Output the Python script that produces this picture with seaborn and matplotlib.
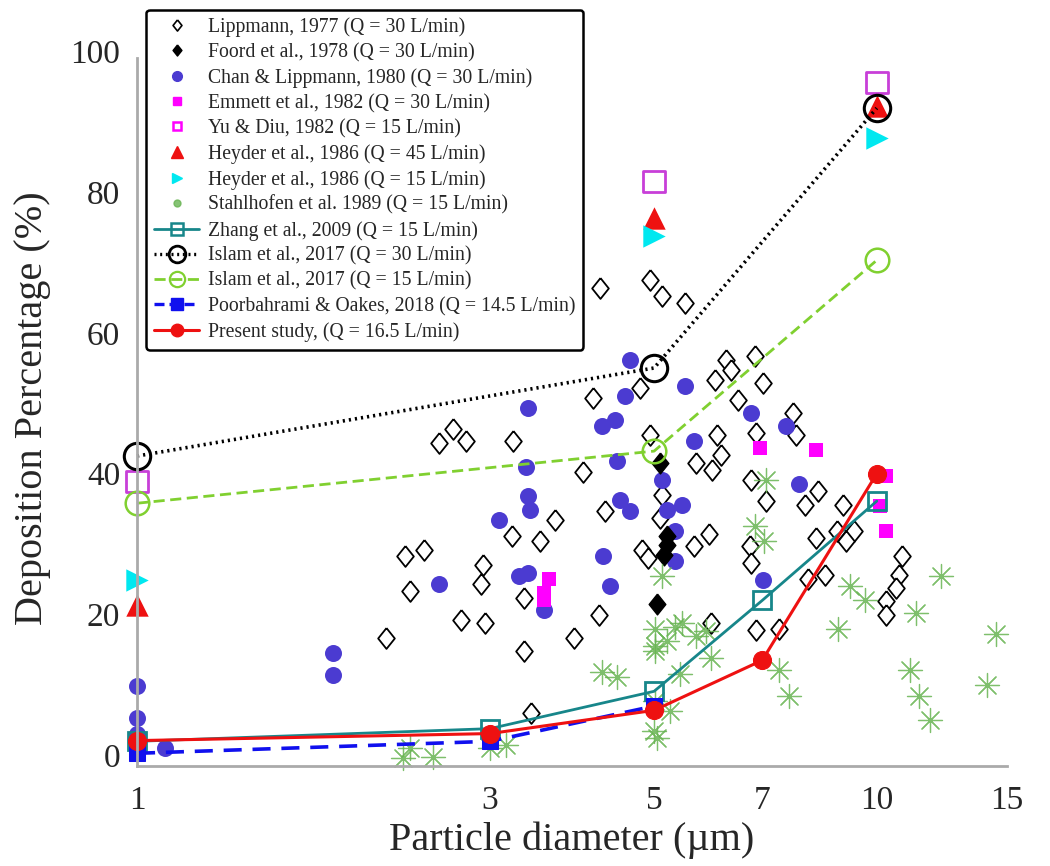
import numpy as np
import pandas as pd
import matplotlib.pyplot as plt
from matplotlib.lines import Line2D
import seaborn as sns

# ---- data ----
# Lippmann, 1977 (open diamonds)
lipp_x = [2.17, 2.34, 2.30, 2.44, 2.56, 2.67, 2.78, 2.74, 2.94, 2.92, 2.95, 3.22, 3.21, 3.50,
          3.67, 3.34, 3.34, 3.41, 4.01, 4.14, 4.29, 4.21, 3.90, 4.79, 4.93, 5.12, 5.10, 4.82,
          4.90, 4.23, 4.93, 5.12, 5.50, 6.25, 6.35, 6.05, 6.49, 6.84, 7.01, 6.09, 6.86, 6.16,
          5.69, 5.99, 6.76, 7.08, 7.70, 7.78, 8.00, 8.33, 9.00, 8.27, 8.84, 9.31, 9.10, 5.94,
          5.66, 6.73, 6.76, 8.08, 8.52, 5.96, 6.86, 7.38, 10.8, 10.7, 10.6, 10.3, 10.3]
lipp_y = [16.6, 23.4, 28.3, 29.1, 44.3, 46.4, 44.7, 19.2, 27.0, 24.4, 18.8, 44.6, 31.1, 30.4,
          33.4, 22.3, 14.8, 6.0, 40.3, 50.7, 34.7, 19.9, 16.6, 52.1, 45.5, 36.9, 33.7, 29.1,
          28.0, 66.3, 67.5, 65.2, 64.2, 56.1, 54.7, 53.3, 50.4, 56.7, 52.8, 45.5, 45.7, 42.6,
          41.5, 40.5, 39.1, 36.1, 48.6, 45.5, 35.5, 37.5, 35.5, 30.8, 31.8, 31.8, 30.5, 31.5,
          29.7, 29.7, 27.3, 25.1, 25.6, 18.8, 17.8, 18.0, 28.3, 25.6, 23.7, 21.9, 19.9]

# Foord et al., 1978 (filled diamonds)
foord_x = [5.10, 5.20, 5.20, 5.15, 5.05]
foord_y = [41.5, 31.2, 29.8, 28.5, 21.5]

# Chan & Lippmann, 1980 (filled circles)
chan_x = [1.0, 1.0, 1.0, 1.09, 1.84, 1.84, 2.56, 3.09, 3.28, 3.38, 3.38, 3.36, 3.38, 3.40,
          3.55, 4.25, 4.43, 4.27, 4.36, 4.46, 4.49, 4.57, 4.64, 4.64, 5.12, 5.20, 5.34, 5.34,
          5.46, 5.50, 5.66, 6.76, 7.01, 7.54, 7.86]
chan_y = [9.8, 5.3, 3.0, 1.0, 14.6, 11.4, 24.4, 33.4, 25.4, 25.9, 49.3, 41.0, 36.8, 34.8,
          20.6, 46.7, 47.6, 28.3, 24.0, 41.8, 36.2, 51.0, 56.1, 34.7, 39.1, 34.8, 31.8, 27.6,
          35.5, 52.4, 44.6, 48.6, 24.9, 46.7, 38.6]

# Emmett et al., 1982 (filled squares)
emm_x = [3.61, 3.55, 3.55, 6.95, 8.28, 10.28, 10.1, 10.28]
emm_y = [25.1, 23.0, 22.0, 43.6, 43.3, 39.6, 35.4, 31.8]

# Yu & Diu / Heyder (three sizes)
dp3 = [1, 5, 10]
yu_y = [38.9, 81.5, 95.5]
hey45_y = [21.3, 76.3, 92.2]
hey15_y = [24.9, 73.7, 87.6]

# Stahlhofen et al. 1989 (asterisks)
stahl_x = [2.34, 2.29, 2.51, 3.00, 3.15, 4.25, 4.46, 5.12, 5.02, 5.34, 5.46, 5.88, 5.02, 5.20,
           5.02, 5.96, 5.42, 5.02, 5.25, 5.00, 5.05, 5.70, 6.84, 7.05, 7.08, 7.38, 7.60, 8.87,
           9.20, 9.65, 11.3, 12.2, 14.5, 11.1, 11.4, 11.8, 14.1]
stahl_y = [1.0, -0.4, -0.2, 1.0, 1.5, 11.9, 11.2, 25.4, 18.0, 18.3, 18.8, 17.6, 15.6, 16.2,
           14.8, 13.8, 11.6, 7.7, 6.3, 3.4, 2.5, 17.0, 32.5, 30.4, 39.1, 12.1, 8.4, 18.0,
           24.1, 22.0, 20.2, 25.4, 17.3, 12.1, 8.4, 5.0, 10.0]

# line series
dp5 = [1, 3, 5, 7, 10]
zhang_y = [2.0, 3.8, 9.1, 22.0, 36.1]
present_y = [2.1, 3.1, 6.4, 13.5, 40.0]
islam30_y = [42.5, 55.0, 91.9]
islam15_y = [35.8, 43.2, 70.3]
poor_x = [1, 3, 5]
poor_y = [0.3, 2.0, 7.0]

xticks = [1, 3, 5, 7, 10, 15]
yticks = [0, 20, 40, 60, 80, 100]

labels = ['Lippmann, 1977 (Q = 30 L/min)',
          'Foord et al., 1978 (Q = 30 L/min)',
          'Chan & Lippmann, 1980 (Q = 30 L/min)',
          'Emmett et al., 1982 (Q = 30 L/min)',
          'Yu & Diu, 1982 (Q = 15 L/min)',
          'Heyder et al., 1986 (Q = 45 L/min)',
          'Heyder et al., 1986 (Q = 15 L/min)',
          'Stahlhofen et al. 1989 (Q = 15 L/min)',
          'Zhang et al., 2009 (Q = 15 L/min)',
          'Islam et al., 2017 (Q = 30 L/min)',
          'Islam et al., 2017 (Q = 15 L/min)',
          'Poorbahrami & Oakes, 2018 (Q = 14.5 L/min)',
          'Present study, (Q = 16.5 L/min)']

# colours
c_chan = '#4b3bd1'
c_mag = '#ff00ff'
c_yu = '#c83fd8'
c_red = '#ee1111'
c_cyan = '#00e8f0'
c_stahl = '#68b452'
c_zhang = '#17868a'
c_green = '#80d030'
c_blue = '#1010ee'

diamond = [(0, 1), (0.8, 0), (0, -1), (-0.8, 0), (0, 1)]

sns.set_style('white')
plt.rcParams['font.family'] = ['Liberation Serif', 'DejaVu Serif']

fig = plt.figure(figsize=(10.5, 8.66), dpi=100)
ax = fig.add_axes([0.1305, 0.1155, 0.8286, 0.8256])

# scatter data sets
sc = dict(ax=ax, clip_on=False, legend=False)
sns.scatterplot(x=lipp_x, y=lipp_y, marker=diamond, s=225, facecolor='white',
                edgecolor='black', linewidth=1.3, **sc)
sns.scatterplot(x=chan_x, y=chan_y, marker='o', s=150, color=c_chan, edgecolor=c_chan,
                linewidth=0, **sc)
sns.scatterplot(x=foord_x, y=foord_y, marker=diamond, s=225, color='black', edgecolor='black',
                linewidth=1, **sc)
sns.scatterplot(x=emm_x, y=emm_y, marker='s', s=100, color=c_mag, edgecolor=c_mag,
                linewidth=0, **sc)
sns.scatterplot(x=dp3, y=yu_y, marker='s', s=240, facecolor='none', edgecolor=c_yu,
                linewidth=2, **sc)
sns.scatterplot(x=dp3, y=hey45_y, marker='^', s=260, color=c_red, edgecolor=c_red,
                linewidth=0, **sc)
sns.scatterplot(x=dp3, y=hey15_y, marker='>', s=260, color=c_cyan, edgecolor=c_cyan,
                linewidth=0, **sc)
sns.scatterplot(x=stahl_x, y=stahl_y, marker=(8, 2, 0), s=300, color=c_stahl,
                edgecolor=c_stahl, linewidth=0.9, alpha=0.85, **sc)

# line data sets
ln = dict(ax=ax, clip_on=False, legend=False, errorbar=None)
sns.lineplot(x=dp5, y=zhang_y, color=c_zhang, linewidth=2, marker='s', markersize=13,
             markerfacecolor='none', markeredgecolor=c_zhang, markeredgewidth=2, **ln)
sns.lineplot(x=dp3, y=islam30_y, color='black', linewidth=2.6, linestyle=(0, (0.6, 1.1)),
             marker='o', markersize=19, markerfacecolor='none', markeredgecolor='black',
             markeredgewidth=2.2, **ln)
sns.lineplot(x=dp3, y=islam15_y, color=c_green, linewidth=2, linestyle=(0, (4, 2)),
             marker='o', markersize=17, markerfacecolor='none', markeredgecolor=c_green,
             markeredgewidth=1.8, **ln)
sns.lineplot(x=poor_x, y=poor_y, color=c_blue, linewidth=2.6, linestyle=(0, (5, 3)),
             marker='s', markersize=11, markerfacecolor=c_blue, markeredgecolor=c_blue, **ln)
sns.lineplot(x=dp5, y=present_y, color=c_red, linewidth=2.2, marker='o', markersize=13,
             markerfacecolor=c_red, markeredgecolor=c_red, **ln)

# axes
ax.set_xscale('log')
ax.set_xlim(1, 15)
ax.set_ylim(-1.5, 100)
ax.set_xticks(xticks)
ax.set_xticklabels([str(t) for t in xticks])
ax.xaxis.set_minor_locator(plt.NullLocator())
ax.set_yticks(yticks)
ax.tick_params(axis='both', length=0, labelsize=24)
ax.tick_params(axis='x', pad=14)
ax.tick_params(axis='y', pad=12)
ax.set_xlabel('Particle diameter (µm)', fontsize=29, labelpad=4)
ax.set_ylabel('Deposition Percentage (%)', fontsize=29, labelpad=14)

sns.despine(ax=ax)
for s in ['left', 'bottom']:
    ax.spines[s].set_color('#aaaaaa')
    ax.spines[s].set_linewidth(2)
ax.spines['left'].set_bounds(-1.5, 99)

# legend
handles = [
    Line2D([], [], ls='none', marker=diamond, ms=8, mfc='white', mec='black', mew=1.2),
    Line2D([], [], ls='none', marker=diamond, ms=8, mfc='black', mec='black'),
    Line2D([], [], ls='none', marker='o', ms=7, mfc=c_chan, mec=c_chan),
    Line2D([], [], ls='none', marker='s', ms=6, mfc=c_mag, mec=c_mag),
    Line2D([], [], ls='none', marker='s', ms=6, mfc='none', mec=c_mag, mew=1.8),
    Line2D([], [], ls='none', marker='^', ms=8, mfc=c_red, mec=c_red),
    Line2D([], [], ls='none', marker='>', ms=7, mfc=c_cyan, mec=c_cyan),
    Line2D([], [], ls='none', marker='o', ms=5, mfc=c_stahl, mec=c_stahl, alpha=0.8),
    Line2D([], [], color=c_zhang, lw=2, marker='s', ms=9, mfc='none', mec=c_zhang, mew=1.8),
    Line2D([], [], color='black', lw=2.4, ls=(0, (0.6, 1.1)), marker='o', ms=12, mfc='none',
           mec='black', mew=2),
    Line2D([], [], color=c_green, lw=2, ls=(0, (4, 2)), marker='o', ms=11, mfc='none',
           mec=c_green, mew=1.6),
    Line2D([], [], color=c_blue, lw=2.4, ls=(0, (3, 1.5)), marker='s', ms=8, mfc=c_blue,
           mec=c_blue),
    Line2D([], [], color=c_red, lw=2.2, marker='o', ms=9, mfc=c_red, mec=c_red),
]
leg = ax.legend(handles, labels, loc='upper left', bbox_to_anchor=(0.139, 0.989),
                bbox_transform=fig.transFigure, fontsize=14.2, frameon=True, fancybox=True,
                framealpha=1, edgecolor='black', labelspacing=0.3, handlelength=2.3,
                handletextpad=0.45, borderpad=0.4, borderaxespad=0)
leg.get_frame().set_linewidth(1.8)
leg.set_zorder(10)

plt.savefig('out.png', dpi=100)
